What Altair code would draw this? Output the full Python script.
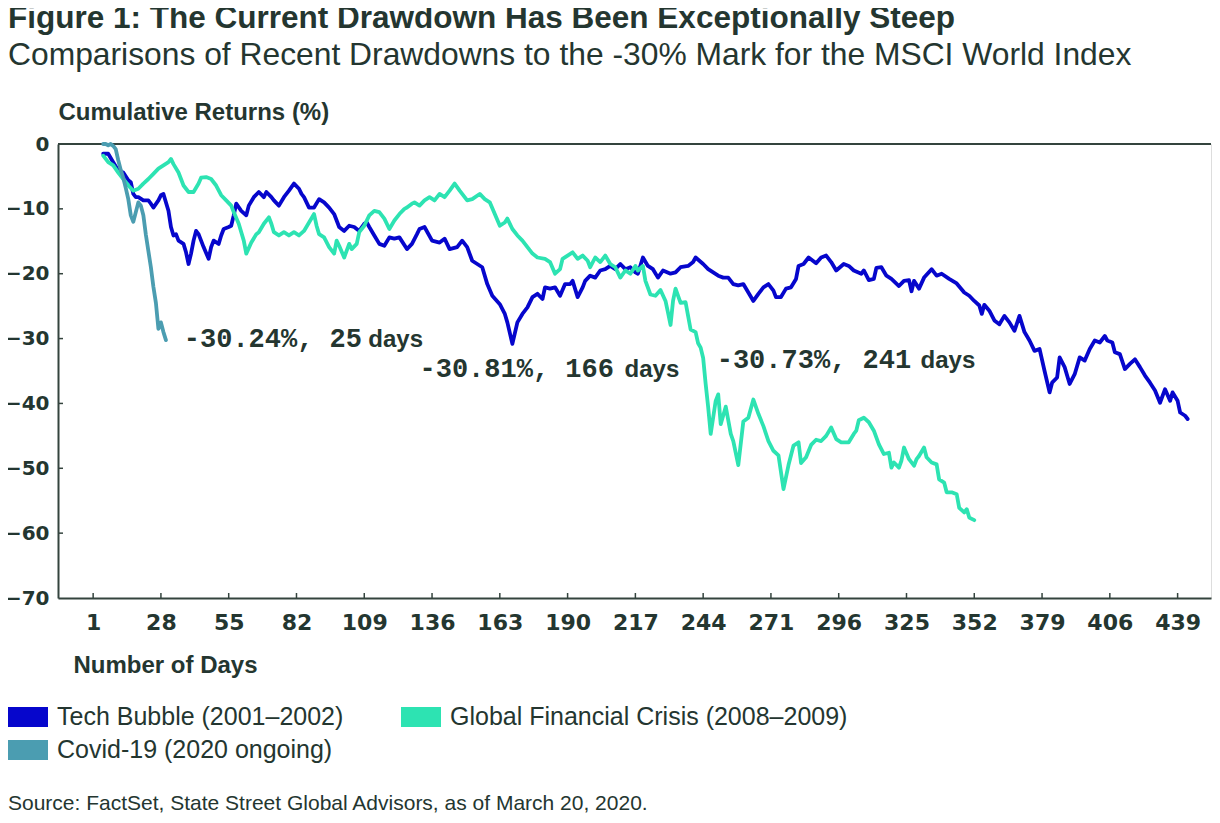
import altair as alt
import pandas as pd

TEXT = "#243630"
AXIS = "#34443e"

series_names = ["Tech Bubble (2001–2002)", "Global Financial Crisis (2008–2009)", "Covid-19 (2020 ongoing)"]
series_colors = ["#0606cc", "#2de3b2", "#4b9db1"]

tech_days = [
    5, 7, 9, 11, 13, 15, 16, 17, 18, 19,
    21, 23, 24, 25, 27, 28, 29, 31, 32, 33,
    34, 35, 37, 38, 39, 40, 41, 42, 43, 44,
    45, 47, 48, 49, 51, 52, 53, 55, 56, 57,
    58, 60, 62, 63, 65, 67, 69, 70, 72, 73,
    75, 77, 79, 81, 83, 84, 85, 87, 89, 91,
    93, 95, 97, 99, 101, 103, 105, 107, 109, 110,
    111, 113, 115, 117, 119, 121, 123, 126, 128, 130,
    131, 133, 136, 139, 141, 143, 146, 148, 150, 152,
    154, 156, 158, 160, 163, 165, 166, 168, 170, 172,
    174, 176, 178, 180, 181, 183, 185, 187, 189, 191,
    192, 194, 196, 197, 199, 201, 203, 205, 207, 209,
    211, 213, 215, 217, 218, 220, 222, 224, 226, 228,
    231, 233, 235, 238, 240, 241, 244, 246, 248, 250,
    252, 254, 256, 258, 260, 262, 264, 266, 268, 270,
    272, 273, 275, 277, 279, 281, 282, 284, 286, 289,
    291, 293, 295, 297, 300, 302, 304, 307, 308, 310,
    312, 313, 315, 317, 319, 322, 324, 326, 327, 328,
    330, 332, 335, 337, 339, 342, 345, 348, 350, 352,
    354, 355, 356, 358, 360, 362, 364, 366, 368, 370,
    372, 374, 376, 378, 380, 382, 383, 385, 386, 388,
    390, 392, 394, 396, 398, 400, 402, 404, 405, 407,
    408, 410, 412, 414, 416, 418, 420, 422, 424, 426,
    428, 430, 431, 433, 434, 436, 437,
]
tech_values = [
    -1.5, -1.5, -2.8, -4.1, -4.4, -5.6, -5.9, -7.7, -8.2, -8.2,
    -8.7, -8.7, -9.2, -9.8, -8.7, -7.9, -7.7, -10.3, -12.8, -14.1,
    -13.9, -14.9, -15.4, -16.7, -18.5, -16.9, -14.9, -13.4, -13.9, -14.9,
    -15.9, -17.7, -15.9, -14.9, -15.4, -14.1, -13.1, -12.8, -12.6, -11.0,
    -9.2, -10.3, -11.0, -9.5, -8.2, -7.4, -8.2, -7.4, -8.2, -8.7,
    -9.5, -8.2, -7.2, -6.1, -6.9, -7.7, -8.2, -9.8, -9.8, -8.5,
    -9.0, -9.8, -10.8, -12.8, -13.4, -12.6, -12.8, -13.4, -12.3, -12.1,
    -12.8, -14.1, -15.4, -15.7, -14.4, -14.6, -14.4, -16.2, -15.4, -13.9,
    -13.1, -12.8, -14.9, -15.2, -14.6, -16.2, -15.9, -14.9, -15.9, -18.0,
    -18.5, -19.0, -21.6, -23.4, -24.7, -26.2, -27.5, -30.81, -27.5, -26.2,
    -25.2, -23.6, -23.1, -23.9, -22.1, -22.3, -22.1, -23.4, -21.6, -21.6,
    -21.1, -23.6, -22.1, -21.1, -20.3, -20.6, -19.5, -19.3, -18.8, -19.3,
    -18.5, -19.3, -19.0, -19.8, -20.0, -17.5, -18.8, -19.3, -20.6, -19.5,
    -20.0, -19.8, -19.0, -18.8, -18.2, -17.5, -18.5, -19.3, -19.8, -20.3,
    -20.6, -20.6, -21.6, -21.8, -21.6, -22.9, -24.2, -23.1, -22.1, -21.6,
    -22.6, -23.6, -23.6, -22.3, -22.1, -20.8, -18.8, -18.5, -17.5, -18.4,
    -17.5, -17.2, -18.2, -19.5, -18.5, -18.8, -19.5, -20.0, -19.5, -21.0,
    -20.8, -19.1, -19.0, -20.3, -20.8, -21.9, -21.1, -21.0, -22.7, -21.1,
    -22.3, -20.6, -19.3, -20.3, -20.0, -20.8, -21.5, -22.9, -23.4, -24.2,
    -24.9, -26.2, -24.8, -25.7, -27.2, -27.8, -26.5, -27.5, -28.8, -26.5,
    -29.0, -30.3, -31.9, -31.6, -35.0, -38.3, -36.8, -36.0, -32.9, -34.4,
    -37.0, -35.5, -32.9, -33.4, -31.6, -30.3, -30.6, -29.6, -30.3, -30.6,
    -32.1, -32.4, -34.7, -33.9, -33.2, -34.4, -35.7, -36.8, -38.0, -39.9,
    -37.8, -39.6, -38.3, -39.6, -41.4, -41.9, -42.4,
]

gfc_days = [
    5, 7, 9, 11, 13, 15, 17, 19, 21, 23,
    25, 27, 29, 31, 32, 33, 35, 37, 39, 41,
    43, 44, 46, 48, 50, 52, 54, 56, 57, 59,
    61, 62, 64, 66, 67, 69, 71, 72, 73, 75,
    77, 79, 81, 83, 85, 87, 89, 90, 91, 93,
    95, 97, 98, 99, 101, 103, 104, 106, 107, 109,
    111, 113, 115, 117, 119, 121, 123, 125, 126, 128,
    129, 131, 133, 135, 137, 139, 141, 143, 145, 147,
    150, 152, 155, 157, 159, 161, 163, 165, 166, 168,
    170, 172, 174, 176, 178, 181, 183, 185, 187, 188,
    190, 192, 194, 196, 198, 199, 201, 203, 205, 207,
    209, 211, 213, 215, 217, 218, 220, 221, 223, 225,
    227, 229, 230, 231, 232, 233, 235, 237, 238, 239,
    241, 242, 243, 244, 245, 246, 247, 249, 250, 251,
    253, 255, 256, 258, 260, 262, 264, 266, 268, 270,
    272, 274, 276, 278, 280, 282, 283, 285, 287, 289,
    291, 293, 295, 297, 299, 302, 304, 305, 306, 308,
    310, 312, 314, 316, 318, 319, 320, 322, 323, 324,
    326, 328, 329, 330, 332, 333, 335, 337, 338, 340,
    341, 343, 345, 346, 348, 349, 350, 352,
]
gfc_values = [
    -1.8, -2.8, -3.3, -4.4, -5.4, -6.4, -7.2, -6.9, -6.1, -5.4,
    -4.6, -3.8, -3.3, -2.8, -2.3, -3.1, -4.4, -6.4, -7.4, -7.4,
    -6.1, -5.2, -5.1, -5.4, -6.4, -7.9, -8.7, -9.5, -10.5, -12.3,
    -14.9, -16.9, -15.2, -13.9, -13.6, -12.3, -11.3, -12.3, -13.6, -14.1,
    -13.6, -14.1, -13.6, -14.1, -13.4, -12.1, -10.8, -12.6, -13.9, -14.4,
    -15.9, -16.9, -14.9, -15.7, -17.5, -15.4, -16.2, -15.4, -13.6, -12.6,
    -11.0, -10.3, -10.5, -11.5, -13.1, -11.8, -10.8, -10.0, -9.8, -9.2,
    -9.0, -9.5, -8.7, -8.2, -8.7, -7.7, -8.2, -7.2, -6.1, -7.2,
    -8.7, -8.5, -7.7, -8.5, -9.0, -10.8, -12.6, -12.1, -11.5, -13.1,
    -14.1, -14.9, -15.9, -16.9, -17.5, -17.7, -18.2, -20.0, -19.3, -17.7,
    -17.2, -16.7, -17.7, -17.2, -18.0, -19.0, -17.5, -18.2, -17.2, -18.5,
    -19.0, -20.6, -19.5, -20.0, -18.8, -19.5, -18.8, -21.1, -23.2, -23.4,
    -22.5, -24.2, -26.0, -27.9, -24.2, -22.3, -24.5, -24.4, -26.5, -28.6,
    -29.0, -30.73, -31.4, -33.0, -37.0, -40.6, -44.7, -39.6, -38.6, -43.2,
    -40.5, -44.7, -45.8, -49.5, -42.8, -42.2, -39.4, -41.6, -43.5, -45.8,
    -47.3, -48.0, -53.2, -49.5, -46.5, -46.0, -49.2, -48.3, -46.4, -45.6,
    -45.8, -45.0, -43.7, -45.5, -46.0, -46.0, -44.7, -44.2, -42.6, -42.2,
    -42.9, -44.2, -46.3, -47.8, -47.6, -49.9, -49.1, -49.9, -48.8, -46.8,
    -48.6, -49.6, -48.6, -48.1, -46.8, -48.3, -49.1, -49.4, -51.7, -52.2,
    -53.7, -53.7, -54.0, -56.1, -56.8, -56.3, -57.6, -58.0,
]

covid_days = [5, 6, 7, 8, 9, 10, 11, 12, 13, 14, 15, 16, 17, 18, 19, 20, 21, 22, 23,
              24, 25, 26, 27, 28, 29, 30]
covid_values = [0.0, 0.0, -0.2, 0.0, -0.3, -0.8, -2.5, -4.0, -5.2, -6.8, -8.5, -11.0,
                -12.0, -10.5, -9.0, -9.5, -11.0, -14.0, -16.5, -19.0, -22.0, -24.5,
                -28.5, -27.5, -29.0, -30.24]

assert len(tech_days) == len(tech_values)
assert len(gfc_days) == len(gfc_values)
assert len(covid_days) == len(covid_values)

x_tick_values = [1, 28, 55, 82, 109, 136, 163, 190, 217, 244, 271, 298, 325, 352, 379, 406, 433]
x_tick_labels = ["1", "28", "55", "82", "109", "136", "163", "190", "217", "244", "271",
                 "296", "325", "352", "379", "406", "439"]
y_tick_values = [0, -10, -20, -30, -40, -50, -60, -70]

ann_numbers = ["-30.24%, 25", "-30.81%, 166", "-30.73%, 241"]
ann_x = [37.1, 131.0, 249.4]
ann_days_x = [110.6, 212.7, 330.6]
ann_y = [-31.25, -36.0, -34.5]

title_text = "Figure 1: The Current Drawdown Has Been Exceptionally Steep"
subtitle_text = "Comparisons of Recent Drawdowns to the -30% Mark for the MSCI World Index"
source_text = "Source: FactSet, State Street Global Advisors, as of March 20, 2020."


def series_frame(name, days, vals):
    return pd.DataFrame({"series": name, "day": days, "value": vals})


df_main = pd.concat([series_frame(series_names[0], tech_days, tech_values),
                     series_frame(series_names[1], gfc_days, gfc_values)], ignore_index=True)
df_covid = series_frame(series_names[2], covid_days, covid_values)

W, H = 1153, 454
x_scale = alt.Scale(domain=[-13.0, 446.3], nice=False, zero=False)
y_scale = alt.Scale(domain=[-70, 0], nice=False, zero=False)

label_expr = "[" + ",".join("'%s'" % s for s in x_tick_labels) + "][indexof([" + \
    ",".join(str(v) for v in x_tick_values) + "], datum.value)]"

x_axis = alt.Axis(
    values=x_tick_values, labelExpr=label_expr, ticks=False, grid=False,
    domainColor=AXIS, domainWidth=2, labelFont="DejaVu Sans", labelFontWeight="bold",
    labelFontSize=22, labelColor=TEXT, labelPadding=14, labelFlush=False,
    labelOverlap=False,
    title="Number of Days", titleFont="Liberation Sans", titleFontWeight="bold",
    titleFontSize=24, titleColor=TEXT, titleX=15, titleY=74, titleAlign="left",
    titleBaseline="alphabetic", titleAnchor="start",
)
y_axis = alt.Axis(
    values=y_tick_values, ticks=False, grid=False, domainColor=AXIS, domainWidth=2,
    labelFont="DejaVu Sans", labelFontWeight="bold", labelFontSize=20, labelColor=TEXT,
    labelPadding=9, labelFlush=False, labelOverlap=False,
    title="Cumulative Returns (%)", titleFont="Liberation Sans", titleFontWeight="bold",
    titleFontSize=24, titleColor=TEXT, titleAngle=0, titleX=0, titleY=-25,
    titleAlign="left", titleBaseline="alphabetic", titleAnchor="start",
)

X = alt.X("day:Q", scale=x_scale, axis=x_axis)
Y = alt.Y("value:Q", scale=y_scale, axis=y_axis)

legend_common = dict(
    orient="none", legendX=-50, direction="horizontal", title=None,
    symbolType="M-2,0H2", symbolSize=400, symbolStrokeWidth=20,
    labelFont="Liberation Sans", labelFontSize=25, labelColor=TEXT, labelOffset=9,
    labelLimit=600, columnPadding=17,
)

lines_main = alt.Chart(df_main).mark_line(strokeJoin="round", strokeCap="round").encode(
    x=X, y=Y,
    color=alt.Color(
        "series:N",
        scale=alt.Scale(domain=series_names[:2], range=series_colors[:2]),
        legend=alt.Legend(legendY=553, **legend_common),
    ),
    strokeWidth=alt.value(3.8),
)

lines_covid = alt.Chart(df_covid).mark_line(strokeJoin="round", strokeCap="round").encode(
    x=X, y=Y,
    stroke=alt.Stroke(
        "series:N",
        scale=alt.Scale(domain=series_names[2:], range=series_colors[2:]),
        legend=alt.Legend(legendY=586, **legend_common),
    ),
    strokeWidth=alt.value(3.8),
)

zero_line = alt.Chart(pd.DataFrame({"value": [0]})).mark_rule(color=AXIS, strokeWidth=2).encode(y=Y)

x_ticks = alt.Chart(pd.DataFrame({"day": x_tick_values})).mark_rule(color=AXIS, strokeWidth=1.5).encode(
    x=X, y=alt.value(H), y2=alt.value(H - 5)
)
y_ticks = alt.Chart(pd.DataFrame({"value": y_tick_values[1:-1]})).mark_rule(color=AXIS, strokeWidth=1.5).encode(
    y=Y, x=alt.value(0), x2=alt.value(5)
)

ann_df = pd.DataFrame({"day": ann_x, "value": ann_y, "label": ann_numbers})
ann_days_df = pd.DataFrame({"day": ann_days_x, "value": ann_y, "label": ["days"] * 3})

ann = alt.Chart(ann_df).mark_text(
    align="left", baseline="alphabetic", font="Liberation Mono", fontWeight="bold",
    fontSize=27, color=TEXT
).encode(x=X, y=Y, text="label:N")
ann_days = alt.Chart(ann_days_df).mark_text(
    align="left", baseline="alphabetic", font="Liberation Sans", fontWeight="bold",
    fontSize=24, color=TEXT
).encode(x=X, y=Y, text="label:N")

source = alt.Chart(pd.DataFrame({"label": [source_text]})).mark_text(
    align="left", baseline="alphabetic", font="Liberation Sans", fontSize=21, color=TEXT
).encode(x=alt.value(-50), y=alt.value(666), text="label:N")

chart = alt.layer(zero_line, x_ticks, y_ticks, lines_main, lines_covid, ann, ann_days, source).properties(
    width=W, height=H,
    autosize=alt.AutoSizeParams(type="none"),
    padding={"left": 50, "top": 136, "right": 1, "bottom": 217},
    title=alt.TitleParams(
        text=title_text, subtitle=subtitle_text, anchor="start", frame="group", dx=-50,
        font="Liberation Sans", fontSize=31.5, fontWeight="bold", color=TEXT,
        subtitleFont="Liberation Sans", subtitleFontSize=31.8, subtitleFontWeight="normal",
        subtitleColor=TEXT, subtitlePadding=6, offset=28,
    ),
).configure_view(strokeWidth=0).configure(background="white")

chart.save("out.html", embed_options={"renderer": "svg", "actions": False})
